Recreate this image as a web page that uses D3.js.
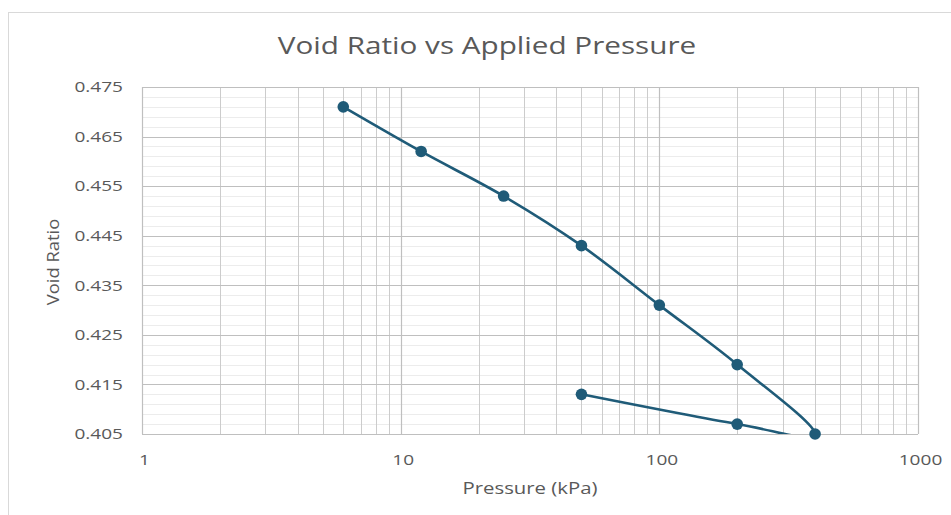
<!DOCTYPE html>
<html>
<head>
<meta charset="utf-8">
<script src="https://cdn.jsdelivr.net/npm/d3@7"></script>
<style>
  html, body { margin: 0; padding: 0; background: #ffffff; }
  svg { display: block; }
</style>
</head>
<body>
<svg id="chart" width="951" height="515"></svg>
<script>
// Consolidation test: loading then unloading path
const pressure = [6, 12, 25, 50, 100, 200, 400, 200, 50];           // kPa
const voidRatio = [0.471, 0.462, 0.453, 0.443, 0.431, 0.419, 0.405, 0.407, 0.413];
const xTicks = [1, 10, 100, 1000];
const yTicks = [0.405, 0.415, 0.425, 0.435, 0.445, 0.455, 0.465, 0.475];
const titleText = "Void Ratio vs Applied Pressure";
const xLabel = "Pressure (kPa)";
const yLabel = "Void Ratio";

const svg = d3.select("#chart");
const W = 951, H = 515;
const plot = { left: 142, right: 918, top: 87, bottom: 434 };
const FONT = "'Open Sans', sans-serif";
const TEXT = "#595959";
const WIDEN = 1.27;   // the chart's typeface runs wider than Open Sans

const x = d3.scaleLog().domain([1, 1000]).range([plot.left, plot.right]);
const y = d3.scaleLinear().domain([0.405, 0.475]).range([plot.bottom, plot.top]);

// stretch a text horizontally around its anchor
function widen(sel, k) {
  sel.each(function () {
    const len = this.getComputedTextLength();
    d3.select(this).attr("textLength", len * k).attr("lengthAdjust", "spacingAndGlyphs");
  });
}

// chart frame
svg.append("rect")
  .attr("x", 8.5).attr("y", 12.5).attr("width", W + 10).attr("height", H + 10)
  .attr("fill", "#ffffff").attr("stroke", "#d9d9d9").attr("stroke-width", 1);

// title
svg.append("text")
  .attr("x", 487).attr("y", 54)
  .attr("text-anchor", "middle")
  .attr("font-family", FONT)
  .attr("font-size", 23)
  .attr("fill", TEXT)
  .text(titleText)
  .call(widen, WIDEN + 0.02);

const grid = svg.append("g");

// minor horizontal gridlines (every 0.002)
const minorY = d3.range(0, 36).map(i => 0.405 + i * 0.002).filter(v => !yTicks.some(t => Math.abs(t - v) < 1e-9));
grid.selectAll("line.minor-y").data(minorY).join("line")
  .attr("x1", plot.left).attr("x2", plot.right)
  .attr("y1", d => Math.round(y(d)) + 0.5).attr("y2", d => Math.round(y(d)) + 0.5)
  .attr("stroke", "#ececec").attr("stroke-width", 1);

// vertical gridlines at every log subdivision
const minorX = [];
for (const dec of [1, 10, 100]) for (let k = 2; k <= 9; k++) minorX.push(dec * k);
grid.selectAll("line.minor-x").data(minorX).join("line")
  .attr("x1", d => Math.round(x(d)) + 0.5).attr("x2", d => Math.round(x(d)) + 0.5)
  .attr("y1", plot.top).attr("y2", plot.bottom)
  .attr("stroke", "#cccccc").attr("stroke-width", 1);

grid.selectAll("line.major-x").data(xTicks).join("line")
  .attr("x1", d => Math.round(x(d)) + 0.5).attr("x2", d => Math.round(x(d)) + 0.5)
  .attr("y1", plot.top).attr("y2", plot.bottom)
  .attr("stroke", "#bfbfbf").attr("stroke-width", 1.2);

grid.selectAll("line.major-y").data(yTicks).join("line")
  .attr("x1", plot.left).attr("x2", plot.right)
  .attr("y1", d => Math.round(y(d)) + 0.5).attr("y2", d => Math.round(y(d)) + 0.5)
  .attr("stroke", "#bfbfbf").attr("stroke-width", 1.2);

// axes (labels only; lines come from the grid)
const yAxis = svg.append("g")
  .attr("transform", `translate(${plot.left},0)`)
  .call(d3.axisLeft(y).tickValues(yTicks).tickFormat(d3.format(".3f")).tickSize(0).tickPadding(19));
const xAxis = svg.append("g")
  .attr("transform", `translate(0,${plot.bottom})`)
  .call(d3.axisBottom(x).tickValues(xTicks).tickFormat(d3.format("d")).tickSize(0));
[xAxis, yAxis].forEach(a => {
  a.select(".domain").remove();
  a.selectAll("text")
    .attr("font-family", FONT)
    .attr("font-size", 15)
    .attr("fill", TEXT);
});
xAxis.selectAll("text").attr("x", 2).attr("y", 26).attr("dy", "0.35em");
xAxis.selectAll("text").call(widen, WIDEN);
yAxis.selectAll("text").call(widen, WIDEN);

// axis titles
svg.append("text")
  .attr("x", 530).attr("y", 494)
  .attr("text-anchor", "middle")
  .attr("font-family", FONT)
  .attr("font-size", 16)
  .attr("fill", TEXT)
  .text(xLabel)
  .call(widen, WIDEN);
svg.append("text")
  .attr("transform", `translate(59,262) rotate(-90)`)
  .attr("text-anchor", "middle")
  .attr("font-family", FONT)
  .attr("font-size", 16)
  .attr("fill", TEXT)
  .text(yLabel)
  .call(widen, 1.15);

// smoothed series, clipped to the plot area
svg.append("clipPath").attr("id", "plot-clip")
  .append("rect")
  .attr("x", plot.left).attr("y", plot.top)
  .attr("width", plot.right - plot.left).attr("height", plot.bottom - plot.top);

const pts = pressure.map((p, i) => [p, voidRatio[i]]);
const color = "#1f5b78";
const line = d3.line()
  .x(d => x(d[0])).y(d => y(d[1]))
  .curve(d3.curveCardinal.tension(0));

svg.append("path")
  .attr("clip-path", "url(#plot-clip)")
  .attr("d", line(pts))
  .attr("fill", "none")
  .attr("stroke", color)
  .attr("stroke-width", 2.6)
  .attr("stroke-linejoin", "round");

svg.selectAll("circle.pt").data(pts).join("circle")
  .attr("cx", d => x(d[0])).attr("cy", d => y(d[1]))
  .attr("r", 5.8)
  .attr("fill", color);
</script>
</body>
</html>
